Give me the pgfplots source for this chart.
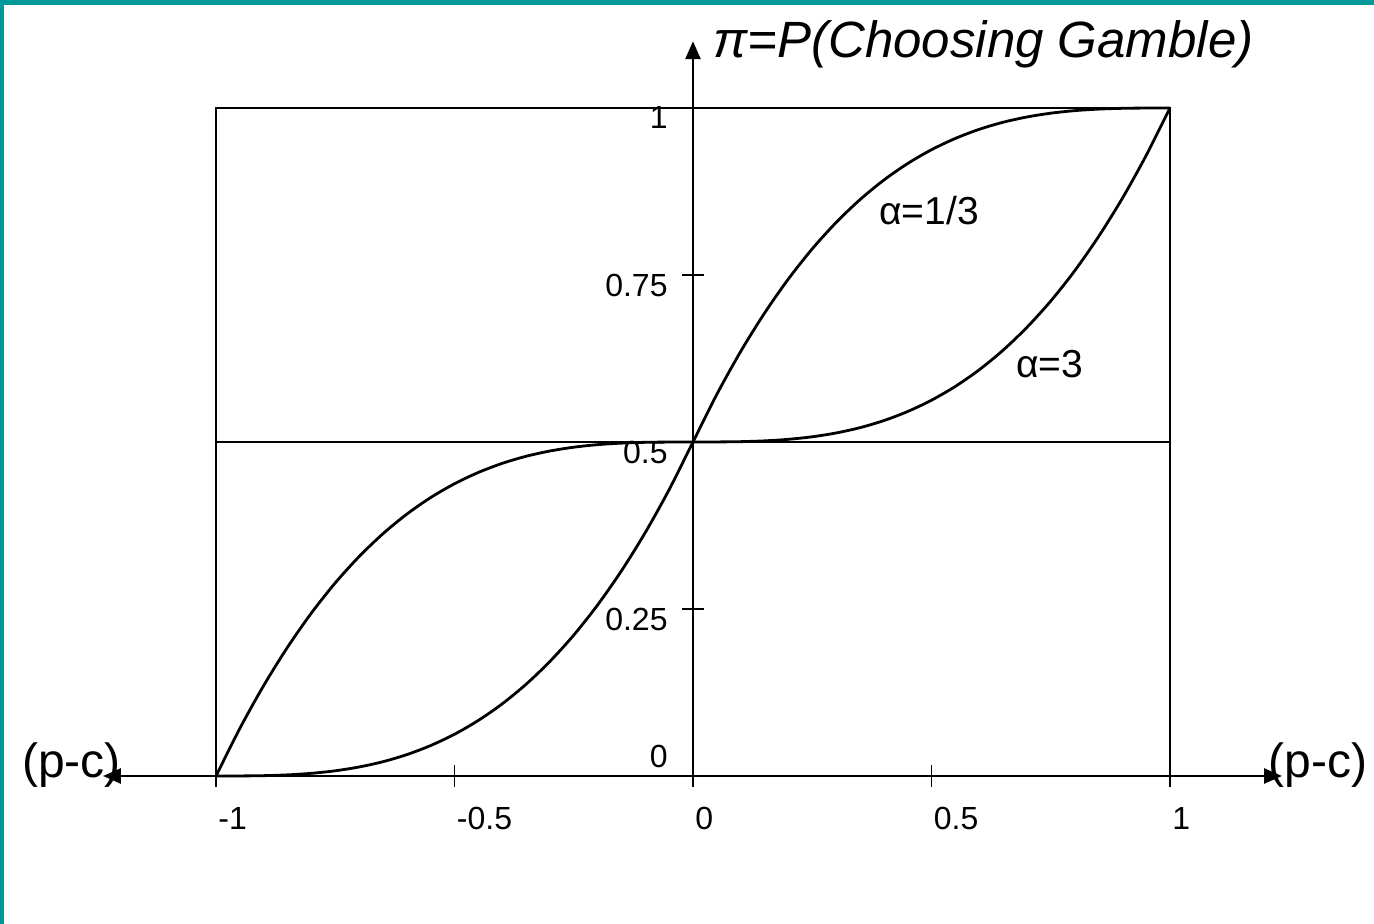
\documentclass[border=0pt]{standalone}
\usepackage{fontspec}
\setmainfont{Liberation Sans}
\usepackage{pgfplots}
\pgfplotsset{compat=1.18}
\usetikzlibrary{arrows.meta}
\definecolor{frameteal}{RGB}{0,153,153}

\begin{document}
\begin{tikzpicture}
\path[use as bounding box] (-51.5pt,-74pt) rectangle (635.5pt,388pt);
\fill[frameteal] (-51.5pt,385.6pt) rectangle (635.5pt,388pt);
\fill[frameteal] (-51.5pt,-74pt) rectangle (-49.5pt,388pt);
\begin{axis}[
  at={(0,0)}, anchor=south west,
  scale only axis, width=589.5pt, height=367.4pt,
  xmin=-1.237, xmax=1.235, ymin=0, ymax=1.1,
  axis x line=middle, axis y line=middle,
  axis line style={line width=1.3pt, black},
  x axis line style={{Triangle[length=9pt,width=7.5pt]}-{Triangle[length=9pt,width=7.5pt]}},
  y axis line style={-{Triangle[length=9pt,width=7.5pt]}},
  xtick={-1,-0.5,0,0.5,1},
  ytick={0.25,0.5,0.75,1},
  extra y ticks={0},
  extra y tick style={yticklabel style={yshift=15pt}},
  hide obscured x ticks=false, hide obscured y ticks=false,
  tick align=center, major tick length=11pt,
  tick style={line width=0.9pt, black},
  /pgf/number format/assume math mode=true,
  xticklabel style={anchor=north west, inner sep=0pt, yshift=-10pt, xshift=1pt, font=\fontsize{16}{19}\selectfont},
  yticklabel style={anchor=east, inner sep=0pt, xshift=-7pt, yshift=-5pt, font=\fontsize{16}{19}\selectfont},
  clip=false,
]
\draw[line width=1.1pt] (axis cs:-1,0) rectangle (axis cs:1,1);
\draw[line width=1.1pt] (axis cs:-1,0.5) -- (axis cs:1,0.5);

% alpha = 1/3
\addplot[black, line width=1.4pt, smooth] coordinates {
(-1,0) (-0.95,0.0001) (-0.9,0.0005) (-0.85,0.0017) (-0.8,0.004) (-0.75,0.0078)
(-0.7,0.0135) (-0.65,0.0214) (-0.6,0.032) (-0.55,0.0456) (-0.5,0.0625)
(-0.45,0.0832) (-0.4,0.108) (-0.35,0.1373) (-0.3,0.1715) (-0.25,0.2109)
(-0.2,0.256) (-0.15,0.3071) (-0.1,0.3645) (-0.05,0.4287) (0,0.5)
(0.05,0.5713) (0.1,0.6355) (0.15,0.6929) (0.2,0.744) (0.25,0.7891)
(0.3,0.8285) (0.35,0.8627) (0.4,0.892) (0.45,0.9168) (0.5,0.9375)
(0.55,0.9544) (0.6,0.968) (0.65,0.9786) (0.7,0.9865) (0.75,0.9922)
(0.8,0.996) (0.85,0.9983) (0.9,0.9995) (0.95,0.9999) (1,1)
};
% alpha = 3
\addplot[black, line width=1.4pt, smooth] coordinates {
(-1,0) (-0.95,0.0713) (-0.9,0.1355) (-0.85,0.1929) (-0.8,0.244) (-0.75,0.2891)
(-0.7,0.3285) (-0.65,0.3627) (-0.6,0.392) (-0.55,0.4168) (-0.5,0.4375)
(-0.45,0.4544) (-0.4,0.468) (-0.35,0.4786) (-0.3,0.4865) (-0.25,0.4922)
(-0.2,0.496) (-0.15,0.4983) (-0.1,0.4995) (-0.05,0.4999) (0,0.5)
(0.05,0.5001) (0.1,0.5005) (0.15,0.5017) (0.2,0.504) (0.25,0.5078)
(0.3,0.5135) (0.35,0.5214) (0.4,0.532) (0.45,0.5456) (0.5,0.5625)
(0.55,0.5832) (0.6,0.608) (0.65,0.6373) (0.7,0.6715) (0.75,0.7109)
(0.8,0.756) (0.85,0.8071) (0.9,0.8645) (0.95,0.9287) (1,1)
};

\node[anchor=west, inner sep=0pt, font=\fontsize{24}{28}\selectfont] at (axis cs:-1.407,0.0165) {(p-c)};
\node[anchor=east, inner sep=0pt, font=\fontsize{24}{28}\selectfont] at (axis cs:1.415,0.0165) {(p-c)};
\node[anchor=west, inner sep=0pt, font=\itshape\fontsize{25.5}{30}\selectfont] at (axis cs:0.042,1.096) {π=P(Choosing Gamble)};
\node[font=\fontsize{19.5}{23}\selectfont] at (axis cs:0.495,0.847) {α=1/3};
\node[font=\fontsize{19.5}{23}\selectfont] at (axis cs:0.748,0.617) {α=3};
\end{axis}
\end{tikzpicture}
\end{document}
